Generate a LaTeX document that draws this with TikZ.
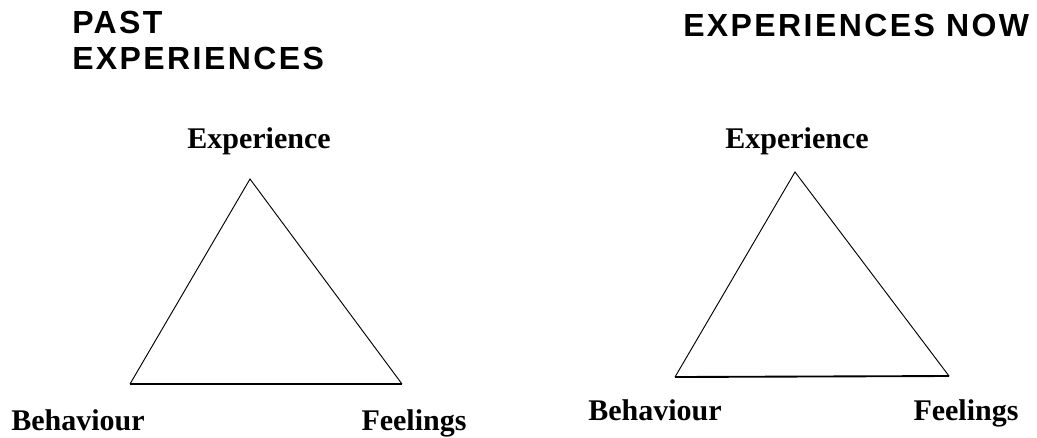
\documentclass[tikz,border=0pt]{standalone}
\usepackage{fontspec}
\setmainfont{Liberation Serif}
\newfontfamily\headfont[LetterSpace=7.5]{Liberation Sans}
\usetikzlibrary{positioning}
\tikzset{
  head/.style={font=\headfont\bfseries\fontsize{24}{27}\selectfont,
               inner sep=0pt, anchor=base west},
  vtx/.style={font=\bfseries\fontsize{22.5}{25}\selectfont,
              inner sep=0pt, anchor=base},
  side/.style={line width=0.7pt, line join=miter},
  foot/.style={line width=1.4pt},
}

\begin{document}
\begin{tikzpicture}[x=0.75pt, y=-0.75pt]
\useasboundingbox (0,0) rectangle (1037,437);
% headings
\node[head] (pastA) at (72,33) {PAST};
\node[head] (pastB) at (72,69) {EXPERIENCES};
\node[head] (now) at (683,36) {EXPERIENCES NOW};
% left triangle
\coordinate (lTop) at (250,179);
\coordinate (lLeft) at (130,384);
\coordinate (lRight) at (402,384);
\node[vtx] (lExp) at (259,148) {Experience};
\node[vtx] (lBeh) at (78,430) {Behaviour};
\node[vtx] (lFeel) at (414,430) {Feelings};
\draw[side] (lLeft) -- (lTop) -- (lRight);
\draw[foot] (lLeft) -- (lRight);
% right triangle
\coordinate (rTop) at (795,172);
\coordinate (rLeft) at (675,377);
\coordinate (rRight) at (949,376);
\node[vtx] (rExp) at (797,148) {Experience};
\node[vtx] (rBeh) at (655,420) {Behaviour};
\node[vtx] (rFeel) at (966,420) {Feelings};
\draw[side] (rLeft) -- (rTop) -- (rRight);
\draw[foot] (rLeft) -- (rRight);
\end{tikzpicture}
\end{document}
